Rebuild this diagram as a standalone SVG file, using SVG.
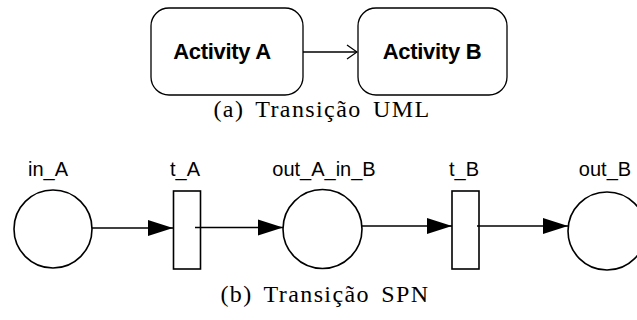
<svg xmlns="http://www.w3.org/2000/svg" width="637" height="320" viewBox="0 0 637 320">
<defs>
<style>
.box{fill:#fff;stroke:#000;stroke-width:1.3}
.sh{fill:#fff;stroke:#000;stroke-width:1.6}
.ln{fill:none;stroke:#000;stroke-width:1.6}
.bold{font-family:"Liberation Sans",Arial,sans-serif;font-weight:bold;font-size:22px;text-anchor:middle;letter-spacing:-0.3px}
.lbl{font-family:"Liberation Sans",Arial,sans-serif;font-size:20px;text-anchor:middle}
.cap{font-family:"Liberation Serif","Times New Roman",serif;font-size:24px;text-anchor:middle;letter-spacing:1.4px;word-spacing:4px}
</style>
<marker id="open" markerWidth="12" markerHeight="16" refX="11" refY="8" orient="auto" markerUnits="userSpaceOnUse">
<path d="M1,1 L11,8 L1,15" fill="none" stroke="#000" stroke-width="1.3"/>
</marker>
<marker id="fill" markerWidth="26" markerHeight="18" refX="25" refY="9" orient="auto" markerUnits="userSpaceOnUse">
<path d="M0,1 L25,9 L0,17 Z" fill="#000"/>
</marker>
</defs>
<g id="activityA"><rect class="box" x="151" y="8" width="152" height="87" rx="18"/><text class="bold" x="222" y="59">Activity A</text></g>
<g id="activityB"><rect class="box" x="358" y="8" width="149" height="87" rx="18"/><text class="bold" x="432" y="59">Activity B</text></g>
<text class="cap" x="322" y="117">(a) Transição UML</text>
<g id="in_A"><circle class="sh" cx="53" cy="229" r="39"/><text class="lbl" x="48" y="176">in_A</text></g>
<g id="t_A"><rect class="sh" x="173.5" y="191" width="27" height="78"/><text class="lbl" x="185" y="176">t_A</text></g>
<g id="out_A_in_B"><circle class="sh" cx="322.5" cy="229" r="39.5"/><text class="lbl" x="324" y="176">out_A_in_B</text></g>
<g id="t_B"><rect class="sh" x="452" y="191" width="27" height="78"/><text class="lbl" x="464" y="176">t_B</text></g>
<g id="out_B"><circle class="sh" cx="607" cy="231" r="39"/><text class="lbl" x="605" y="176">out_B</text></g>
<text class="cap" x="325" y="302">(b) Transição SPN</text>
<g id="connectors">
<line class="ln" x1="303" y1="52" x2="357" y2="52" marker-end="url(#open)"/>
<line class="ln" x1="92" y1="228" x2="173" y2="228" marker-end="url(#fill)"/>
<line class="ln" x1="195" y1="227.5" x2="283" y2="227.5" marker-end="url(#fill)"/>
<line class="ln" x1="362" y1="226" x2="452" y2="226" marker-end="url(#fill)"/>
<line class="ln" x1="477" y1="226" x2="568" y2="226" marker-end="url(#fill)"/>
</g>
</svg>
